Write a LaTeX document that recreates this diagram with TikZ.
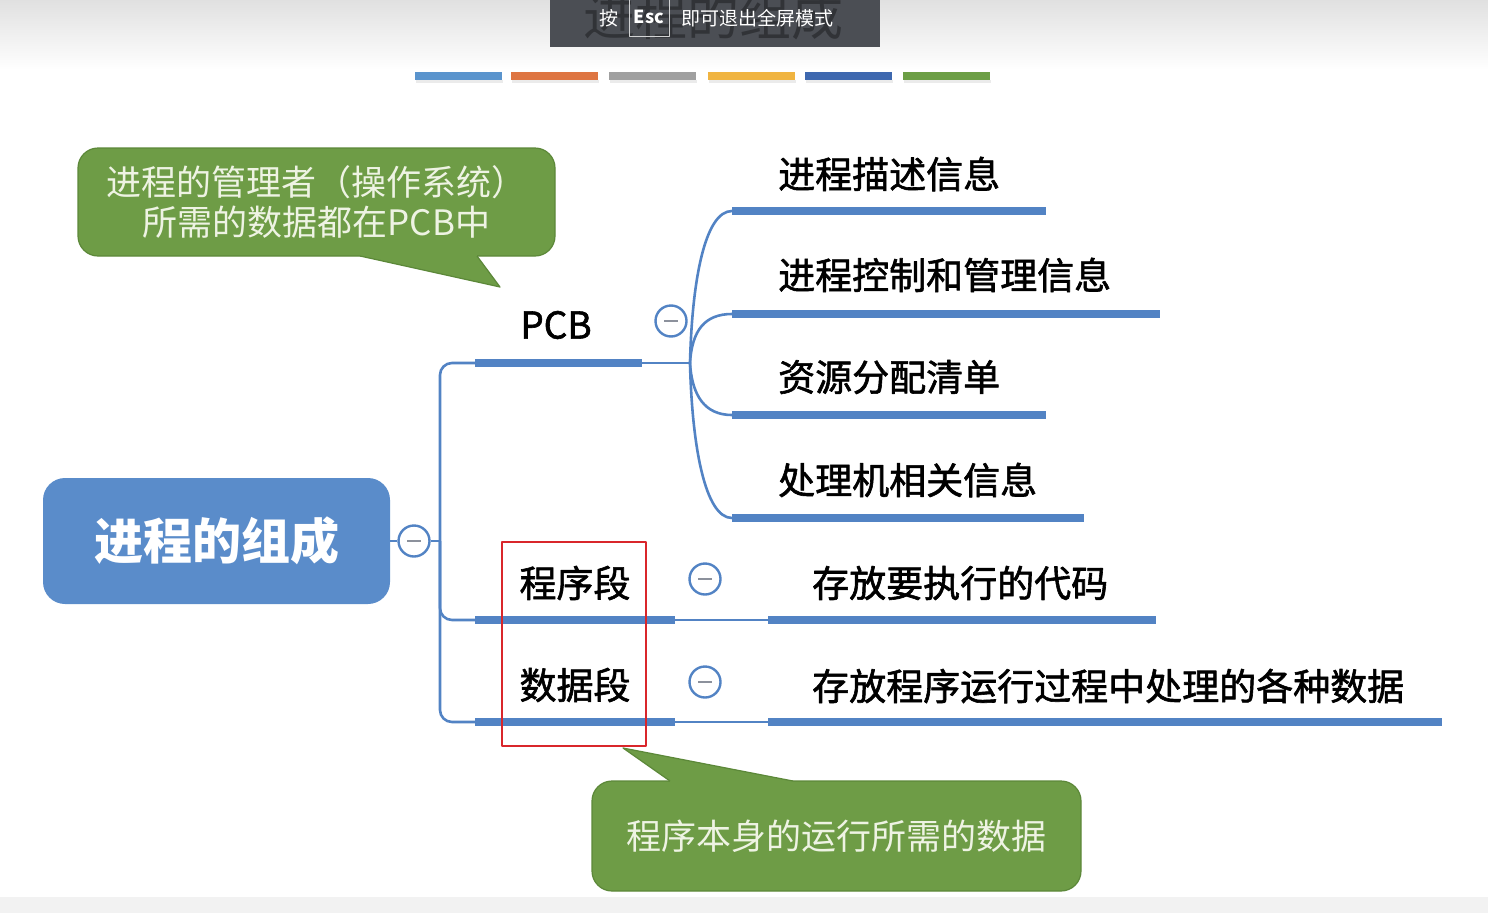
\documentclass[tikz,border=0pt]{standalone}
\usepackage{fontspec}
\setmainfont{Noto Sans CJK SC}
\newfontfamily\topicfont[FakeBold=1.6]{Noto Sans CJK SC}
\usetikzlibrary{calc,positioning}

\definecolor{mapblue}{HTML}{5A8CCA}
\definecolor{barblue}{HTML}{5283C4}
\definecolor{minusgray}{HTML}{8C919C}
\definecolor{notegreen}{HTML}{6E9C46}
\definecolor{noteedge}{HTML}{5C8839}
\definecolor{notetext}{HTML}{EEF3E3}
\definecolor{markred}{HTML}{D9262B}
\definecolor{escgray}{HTML}{4B4E54}
\definecolor{stripA}{HTML}{5A94CD}
\definecolor{stripB}{HTML}{DE7542}
\definecolor{stripC}{HTML}{A0A0A0}
\definecolor{stripD}{HTML}{F0B441}
\definecolor{stripE}{HTML}{3E68AF}
\definecolor{stripF}{HTML}{6C9E45}

\begin{document}
\begin{tikzpicture}[x=1pt, y=-1pt, line join=round,
  bar/.style={draw=barblue, line width=8pt},
  twig/.style={draw=barblue, line width=2.6pt},
  leaf/.style={anchor=west, inner sep=0pt, font=\topicfont\fontsize{37}{40}\selectfont},
  branch/.style={inner sep=0pt, font=\topicfont\fontsize{37}{40}\selectfont},
  toggle/.style={circle, draw=barblue, fill=white, line width=2.4pt, minimum size=31pt, inner sep=0pt,
    path picture={\draw[minusgray, line width=2.2pt]
      ([xshift=-7pt]path picture bounding box.center) -- ([xshift=7pt]path picture bounding box.center);}},
  note/.style={fill=notegreen, draw=noteedge, line width=1.2pt, rounded corners=20pt, text=notetext,
    align=center, inner sep=0pt, font=\fontsize{35}{40}\selectfont},
  hint/.style={text=white, inner sep=0pt, font=\fontsize{19}{20}\selectfont},
]
\useasboundingbox (0,0) rectangle (1488,913);

% backdrop
\shade[top color=black!12, bottom color=white] (0,0) rectangle (1488,70);
\fill[black!5] (0,897) rectangle (1488,913);
\foreach \x/\c in {415/stripA, 511/stripB, 609/stripC, 708/stripD, 805/stripE, 903/stripF} {
  \fill[black!8] (\x+1,80) rectangle ++(87,3);
  \fill[\c] (\x,72) rectangle ++(87,8);
}

% full screen hint
\fill[escgray] (550,0) rectangle (880,47);
\begin{scope}
  \clip (550,0) rectangle (880,47);
  \node[text=escgray!65!black, inner sep=0pt, font=\fontsize{52}{56}\selectfont] (ghost) at (713,16) {进程的组成};
\end{scope}
\node[hint] (hintA) at (609,18) {按};
\node[draw=white!75!escgray, line width=0.8pt, text=white, minimum width=40pt, minimum height=38pt,
  inner sep=0pt, font=\bfseries\fontsize{18}{20}\selectfont] (esckey) at (649,17) {Esc};
\node[hint, anchor=west] (hintB) at (681,18) {即可退出全屏模式};

% topics
\node[fill=mapblue, rounded corners=22pt, minimum width=347pt, minimum height=126pt, text=white,
  font=\bfseries\fontsize{49}{52}\selectfont] (root) at (216.5,541) {进程的组成};
\node[toggle] (c0) at (414,541) {};
\node[toggle] (c1) at (671,321) {};
\node[toggle] (c2) at (705,579) {};
\node[toggle] (c3) at (705,682) {};

\node[branch] (pcb) at (556,325) {PCB};
\node[branch] (prg) at (575,583) {程序段};
\node[branch] (dat) at (575,685) {数据段};

\node[leaf] (d1) at (778,174) {进程描述信息};
\node[leaf] (d2) at (778,275) {进程控制和管理信息};
\node[leaf] (d3) at (778,377) {资源分配清单};
\node[leaf] (d4) at (778,480) {处理机相关信息};
\node[leaf] (p1) at (812,583) {存放要执行的代码};
\node[leaf] (q1) at (812,686) {存放程序运行过程中处理的各种数据};

% bar ends
\coordinate (trunk) at (440,541);
\coordinate (pcbL) at (475,363); \coordinate (pcbR) at (642,363); \coordinate (pcbJ) at (690,363);
\coordinate (prgL) at (475,620); \coordinate (prgR) at (675,620);
\coordinate (datL) at (475,722); \coordinate (datR) at (675,722);
\coordinate (p1L) at (768,620); \coordinate (p1R) at (1156,620);
\coordinate (q1L) at (768,722); \coordinate (q1R) at (1442,722);

% connectors
\draw[twig] (root.east) -- (c0.west);
\draw[twig] (c0.east) -- (trunk);
\draw[twig, rounded corners=12pt] (pcbL) -| (trunk) |- (datL);
\draw[twig, rounded corners=12pt] (trunk) |- (prgL);
\draw[bar] (pcbL) -- (pcbR);
\draw[twig] (pcbR) -- (pcbJ);
\draw[bar] (prgL) -- (prgR);
\draw[twig] (prgR) -- (p1L);
\draw[bar] (p1L) -- (p1R);
\draw[bar] (datL) -- (datR);
\draw[twig] (datR) -- (q1L);
\draw[bar] (q1L) -- (q1R);
\foreach \n/\y/\xe/\ca/\cb in {d1/211/1046/280/211, d2/314/1160/330/314, d3/415/1046/396/415, d4/518/1084/446/518} {
  \coordinate (\n-l) at (732,\y);
  \coordinate (\n-r) at (\xe,\y);
  \draw[twig] (pcbJ) .. controls (692,\ca) and (705,\cb) .. (\n-l);
  \draw[bar] (\n-l) -- (\n-r);
}

% highlight
\node[draw=markred, line width=2.6pt, minimum width=144pt, minimum height=204pt] (pick) at (574,644) {};

% callouts
\node[note, minimum width=477pt, minimum height=108pt] (noteA) at (316.5,202)
  {进程的管理者（操作系统）\\所需的数据都在PCB中};
\coordinate (tipA) at (500,287);
\fill[notegreen] (360,248) -- (360,256) -- (tipA) -- (477,256) -- (477,248) -- cycle;
\draw[noteedge, line width=1.2pt] (360,256) -- (tipA) -- (477,256);

\node[note, minimum width=489pt, minimum height=110pt] (noteB) at (836.5,836) {程序本身的运行所需的数据};
\coordinate (tipB) at (623,748);
\fill[notegreen] (670,789) -- (670,781) -- (tipB) -- (793,781) -- (793,789) -- cycle;
\draw[noteedge, line width=1.2pt] (670,781) -- (tipB) -- (793,781);
\end{tikzpicture}
\end{document}
